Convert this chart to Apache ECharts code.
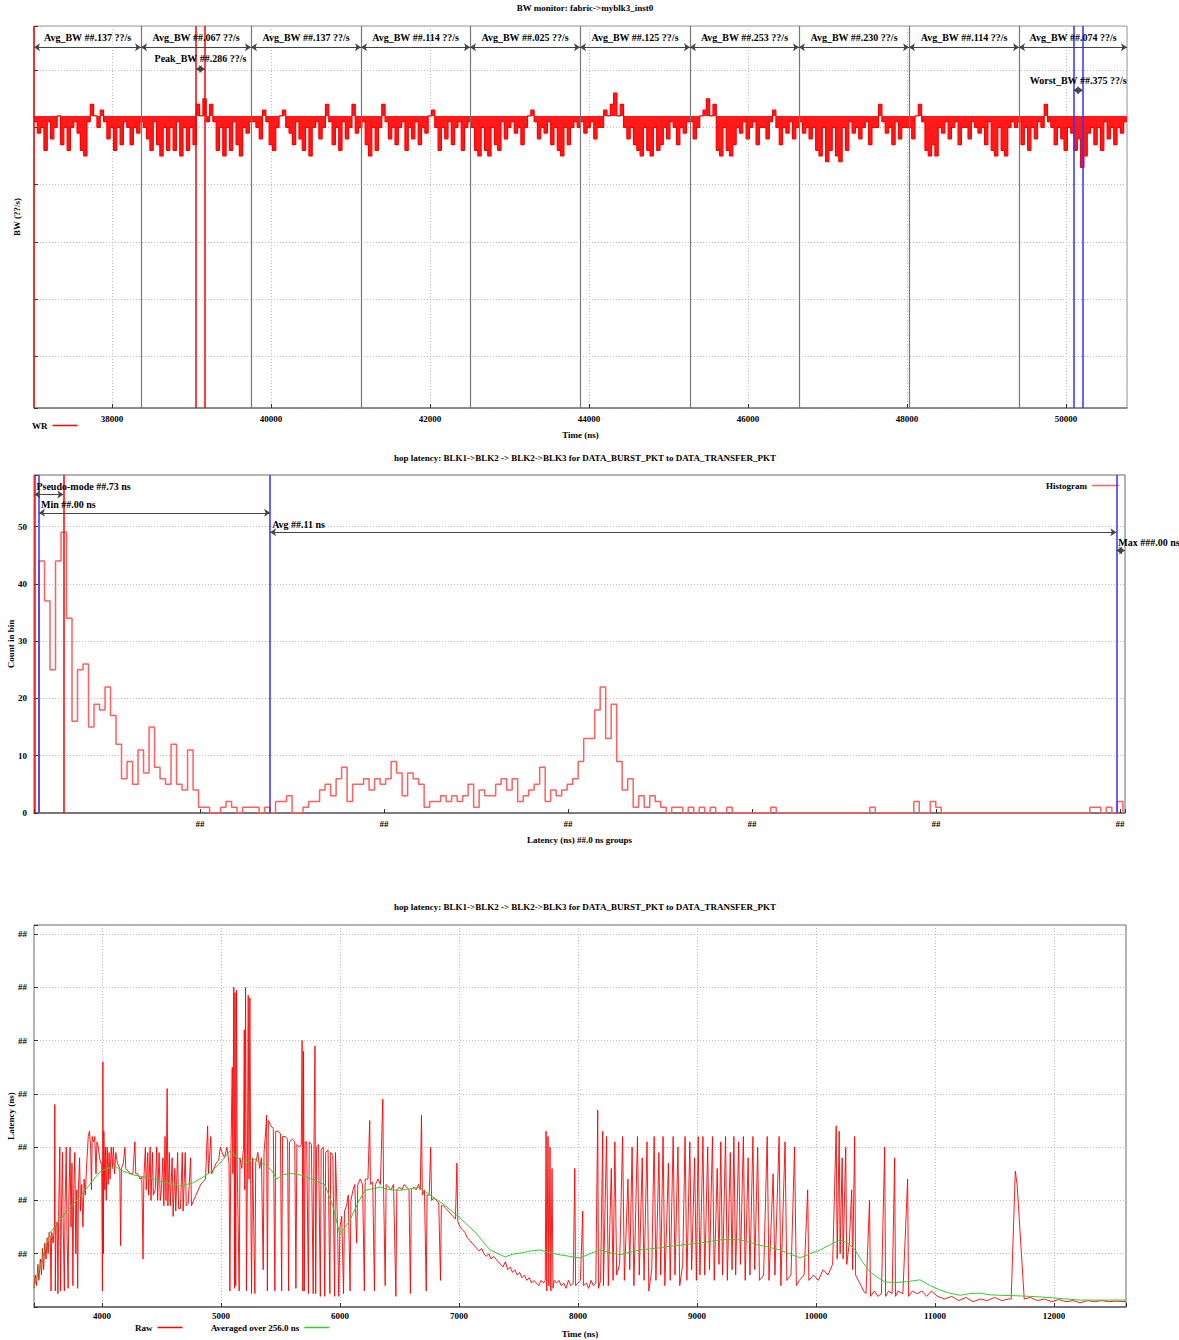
<!DOCTYPE html>
<html>
<head>
<meta charset="utf-8">
<script src="https://cdn.jsdelivr.net/npm/echarts@6/dist/echarts.min.js"></script>
<style>
html, body { margin: 0; padding: 0; background: #fff; }
#main { width: 1179px; height: 1340px; }
</style>
</head>
<body>
<div id="main"></div>
<script>
// ---------- panel 1 : BW monitor ----------
var bwStart = 37020, bwEnd = 50767;
var bwTop = 42;
var bwSamples = [
  41,39,40,36,41,38,40,42,37,40,36,40,41,39,36,35,41,44,42,40,43,41,38,40,36,40,37,41,40,37,40,39,41,
  40,38,36,41,37,35,40,36,40,36,41,35,40,36,40,37,44,42,45,41,44,41,36,40,35,40,36,41,37,35,40,39,41,
  41,40,38,43,41,37,36,40,42,43,40,39,37,41,38,36,40,35,40,41,38,40,44,41,37,40,36,41,38,40,44,39,40,
  41,37,35,40,36,40,44,41,38,40,37,40,41,36,40,38,41,37,40,39,42,43,40,36,40,38,41,37,40,41,36,40,41,
  40,36,35,40,36,35,40,37,36,41,38,40,41,39,40,37,40,42,43,41,38,40,39,41,37,40,36,35,40,37,40,41,40,
  41,39,40,41,38,40,40,43,42,44,46,42,44,40,38,40,37,36,35,40,36,35,40,36,37,40,38,41,40,37,40,39,41,
  41,38,40,42,43,45,42,44,36,35,40,36,35,37,40,39,41,38,40,41,37,40,40,38,41,43,40,37,40,39,41,38,40,
  41,39,40,38,40,36,35,40,34,36,40,35,34,40,36,41,39,40,38,40,41,37,40,40,44,41,39,40,37,41,38,40,40,
  40,38,42,44,41,36,35,37,35,40,39,41,38,40,41,37,40,40,38,41,40,39,40,37,41,36,35,40,36,35,40,41,40,
  41,37,40,36,40,38,41,40,44,41,40,37,40,38,36,40,39,36,38,33,35,39,40,37,40,36,41,38,40,37,40,39,41
];
var bwSegEdges = [37020, 38366, 39749, 41133, 42504, 43887, 45270, 46641, 48025, 49409, 50767];
var bwAvgText = ['##.137', '##.067', '##.137', '##.114', '##.025', '##.125', '##.253', '##.230', '##.114', '##.074'];
var bwPeak = [39057, 39170];
var bwWorst = [50092, 50214];

// ---------- panel 2 : latency histogram ----------
var histStart = 12.5, histWidth = 2.99;
var histCounts = [
  44,37,25,44,49,34,16,25,26,15, 19,18,22,17,12,6,9,5,11,7,
  15,8,6,5,12,5,4,11,4,1, 1,0,0,1,2,1,0,1,1,1,
  0,1,0,2,2,3,0,0,1,2, 2,4,5,3,6,8,2,5,5,6,
  4,6,5,6,9,7,3,7,6,5, 1,2,2,3,2,3,2,3,5,1,
  4,3,3,5,6,4,6,2,3,4, 5,8,2,4,3,4,5,6,9,13,
  13,18,22,13,19,9,4,6,1,3, 1,3,2,1,0,1,1,0,1,0,
  1,0,1,0,0,1,0,0,0,0, 0,0,0,1,0,0,0,0,0,0,
  0,0,0,0,0,0,0,0,0,0, 0,1,0,0,0,0,0,0,0,2,
  0,0,2,1,0,0,0,0,0,0, 0,0,0,0,0,0,0,0,0,0,
  0,0,0,0,0,0,0,0,0,0, 0,1,1,0,1,0,2
];
var latEdge = 10, latMin = 12.5, latMode = 25.73, latAvg = 138.11, latMax = 598.0;

// ---------- panel 3 : latency over time ----------
var rawPoints = [
  [3429,0.35],[3440,0.6],[3450,0.4],[3462,0.8],[3470,0.5],[3482,0.9],[3492,0.6],[3500,1.1],[3510,0.7],[3520,1.2],
  [3530,0.9],[3540,1.3],[3548,1.0],[3556,1.4],[3566,1.3],[3572,0.3],[3578,1.4],[3590,1.2],[3600,1.5],[3604,3.8],
  [3608,0.3],[3614,1.5],[3624,1.6],[3630,0.25],[3636,1.7],[3646,3.0],[3652,0.3],[3660,1.8],[3668,2.9],[3674,1.6],
  [3684,0.3],[3690,1.9],[3700,3.0],[3706,1.4],[3716,0.35],[3722,2.0],[3732,3.0],[3740,1.5],[3748,2.7],[3756,0.4],
  [3762,2.1],[3772,2.9],[3780,1.0],[3788,2.2],[3796,0.35],[3802,2.2],[3812,2.8],[3820,1.8],[3830,2.3],[3840,1.5],
  [3850,2.4],[3860,2.1],[3870,2.6],[3885,3.2],[3895,3.3],[3905,3.0],[3912,2.2],[3918,3.2],[3930,3.1],[3940,3.2],
  [3950,2.5],[3958,3.1],[3970,3.0],[3980,2.8],[3990,2.7],[3998,2.7],[4004,0.3],[4008,4.6],[4012,1.0],[4016,3.3],
  [4024,2.2],[4030,3.0],[4036,2.0],[4044,3.0],[4052,2.3],[4060,2.9],[4068,2.4],[4078,3.0],[4088,2.6],[4096,3.0],
  [4106,2.5],[4116,2.9],[4130,2.7],[4150,2.6],[4157,1.15],[4164,2.6],[4180,2.7],[4193,3.0],[4200,2.6],[4220,2.55],
  [4240,2.5],[4260,2.5],[4277,3.1],[4284,2.5],[4300,2.5],[4320,2.4],[4335,2.45],[4345,0.9],[4352,2.4],[4365,3.0],
  [4372,2.2],[4385,2.9],[4392,2.1],[4405,3.0],[4412,2.0],[4425,2.9],[4432,2.1],[4448,2.2],[4460,3.0],[4468,2.0],
  [4480,2.9],[4490,2.0],[4500,2.2],[4512,2.8],[4520,1.9],[4530,3.2],[4538,2.0],[4548,4.1],[4554,1.9],[4566,2.9],
  [4574,1.9],[4590,2.8],[4598,1.7],[4612,2.6],[4620,1.8],[4636,2.9],[4644,1.85],[4660,1.85],[4675,2.9],[4682,1.8],
  [4700,2.9],[4708,1.9],[4725,1.95],[4745,2.8],[4752,1.9],[4770,2.0],[4790,2.1],[4810,2.2],[4830,2.3],[4850,2.35],
  [4870,2.4],[4888,3.4],[4895,2.5],[4915,3.2],[4922,2.5],[4940,2.6],[4960,2.7],[4980,2.75],[4995,3.0],[5010,2.9],
  [5030,2.8],[5050,3.0],[5068,2.7],[5075,0.3],[5082,2.6],[5095,4.5],[5100,2.5],[5108,6.0],[5114,0.35],[5118,5.9],
  [5124,0.4],[5131,5.95],[5137,2.6],[5153,0.3],[5160,2.8],[5175,2.6],[5190,3.0],[5196,5.2],[5200,2.2],[5207,6.0],
  [5214,0.3],[5222,2.5],[5229,5.85],[5236,2.4],[5243,5.8],[5250,2.3],[5257,0.25],[5266,2.8],[5285,0.25],[5292,2.7],
  [5310,2.9],[5325,2.6],[5340,2.8],[5355,0.7],[5362,2.9],[5376,3.3],[5383,3.6],[5390,0.3],[5398,3.5],[5420,3.4],
  [5440,3.35],[5453,0.3],[5460,3.3],[5480,3.3],[5500,3.25],[5510,0.3],[5518,3.2],[5540,3.2],[5560,3.15],[5568,0.3],
  [5576,3.1],[5600,3.15],[5620,3.1],[5630,0.35],[5638,3.05],[5660,3.0],[5675,3.05],[5682,5.0],[5688,0.3],[5694,4.8],
  [5700,0.3],[5708,3.1],[5720,3.1],[5735,0.25],[5742,3.1],[5760,3.05],[5775,0.25],[5782,3.1],[5790,4.9],[5796,0.25],
  [5804,3.0],[5820,3.05],[5835,0.2],[5842,2.95],[5860,3.0],[5872,0.2],[5880,2.9],[5900,2.95],[5915,0.25],[5922,2.9],
  [5940,2.85],[5955,0.2],[5962,2.9],[5980,1.5],[5990,0.2],[6000,1.5],[6015,1.7],[6030,0.25],[6038,1.8],[6055,1.9],
  [6070,2.1],[6085,0.3],[6092,2.0],[6110,2.2],[6125,2.3],[6140,1.2],[6150,2.3],[6170,2.4],[6190,2.3],[6205,0.3],
  [6212,2.4],[6235,2.4],[6250,3.5],[6256,2.3],[6275,2.35],[6290,0.3],[6298,2.3],[6320,2.4],[6340,2.3],[6360,3.9],
  [6366,2.3],[6380,0.4],[6388,2.3],[6410,2.25],[6430,2.2],[6450,2.3],[6470,0.2],[6478,2.2],[6500,2.25],[6520,2.2],
  [6540,2.3],[6560,2.25],[6580,2.2],[6592,0.25],[6600,2.2],[6620,2.25],[6640,2.2],[6660,2.3],[6675,2.2],[6685,3.6],
  [6692,2.1],[6710,2.2],[6725,0.3],[6732,2.1],[6750,2.1],[6762,3.0],[6770,2.0],[6790,2.05],[6810,2.0],[6830,1.95],
  [6845,0.5],[6852,1.9],[6870,1.9],[6890,1.85],[6910,1.8],[6930,1.75],[6950,1.7],[6970,1.65],[6983,2.7],[6990,1.6],
  [7010,1.5],[7030,1.45],[7050,1.4],[7070,1.3],[7090,1.25],[7110,1.2],[7130,1.15],[7150,1.1],[7170,1.05],[7190,1.1],
  [7210,1.0],[7230,0.95],[7250,1.0],[7270,0.9],[7290,0.95],[7310,0.9],[7330,0.85],[7350,0.8],[7370,0.75],[7390,0.85],
  [7410,0.7],[7430,0.75],[7450,0.65],[7470,0.7],[7490,0.6],[7510,0.65],[7530,0.55],[7550,0.6],[7570,0.5],[7590,0.55],
  [7610,0.45],[7630,0.5],[7650,0.45],[7670,0.4],[7690,0.5],[7710,0.45],[7725,0.5],[7732,3.3],[7738,0.3],[7748,3.2],
  [7755,0.4],[7765,3.0],[7772,0.3],[7782,2.6],[7790,0.35],[7800,0.5],[7820,0.45],[7840,0.5],[7860,0.4],[7880,0.45],
  [7900,0.35],[7920,0.5],[7940,0.4],[7960,0.45],[7973,2.6],[7980,0.4],[8000,0.45],[8020,0.5],[8040,1.8],[8046,0.4],
  [8070,0.45],[8090,0.35],[8110,0.5],[8130,0.4],[8150,0.45],[8166,3.7],[8172,0.35],[8190,0.5],[8208,3.3],[8214,0.4],
  [8240,3.2],[8255,0.4],[8280,2.6],[8295,0.5],[8310,3.1],[8325,0.6],[8350,0.8],[8375,3.2],[8390,0.5],[8420,2.4],
  [8435,0.7],[8455,3.0],[8470,0.4],[8500,3.2],[8515,0.6],[8540,2.8],[8555,0.5],[8580,3.1],[8595,0.3],[8620,0.7],
  [8640,3.2],[8655,0.5],[8680,2.9],[8695,0.6],[8715,3.2],[8730,0.4],[8760,2.7],[8775,0.5],[8800,3.2],[8815,0.6],
  [8840,3.0],[8855,0.4],[8880,0.8],[8900,3.2],[8915,0.5],[8940,3.1],[8955,0.7],[8980,2.8],[8995,0.5],[9010,3.2],
  [9025,0.6],[9050,3.2],[9065,0.6],[9090,3.0],[9105,0.7],[9130,3.2],[9145,0.5],[9170,2.6],[9185,0.8],[9200,3.1],
  [9215,0.6],[9240,3.2],[9255,0.5],[9280,2.9],[9295,0.7],[9310,3.2],[9325,0.6],[9350,3.1],[9365,0.8],[9390,3.2],
  [9405,0.5],[9430,2.8],[9445,0.6],[9470,3.2],[9485,0.7],[9510,3.0],[9525,0.5],[9560,0.6],[9590,3.2],[9605,0.5],
  [9640,2.5],[9655,0.6],[9690,3.2],[9705,0.4],[9740,3.1],[9755,0.5],[9790,0.6],[9820,3.0],[9835,0.4],[9860,0.5],
  [9900,0.6],[9930,2.2],[9940,0.5],[9980,0.6],[10020,0.5],[10060,0.7],[10100,0.6],[10140,0.8],[10170,3.4],[10178,0.9],
  [10195,3.3],[10203,1.0],[10220,2.8],[10228,0.9],[10250,3.0],[10258,0.8],[10280,1.2],[10300,2.2],[10308,0.7],[10325,3.2],
  [10333,0.6],[10355,0.5],[10380,0.4],[10400,0.3],[10420,0.25],[10450,2.0],[10458,0.2],[10490,0.3],[10520,0.2],[10550,0.25],
  [10577,3.0],[10585,0.2],[10610,0.3],[10640,0.25],[10661,2.8],[10668,0.2],[10690,0.3],[10730,0.25],[10770,2.4],[10778,0.2],
  [10810,0.3],[10850,0.25],[10890,0.3],[10930,0.2],[10970,0.3],[11020,0.2],[11080,0.15],[11140,0.2],[11200,0.12],[11260,0.18],
  [11320,0.1],[11380,0.15],[11440,0.12],[11500,0.18],[11560,0.12],[11620,0.15],[11640,0.15],[11675,2.55],[11690,2.3],[11750,0.15],
  [11800,0.18],[11860,0.12],[11920,0.15],[11980,0.1],[12040,0.14],[12100,0.1],[12160,0.12],[12220,0.08],[12280,0.12],[12340,0.1],
  [12400,0.12],[12460,0.1],[12520,0.11],[12605,0.1]
];
var avgPoints = [
  [3429,0.38],[3563,1.39],[3703,1.79],[3840,2.14],[3983,2.54],[4040,2.6],[4109,2.64],[4180,2.55],[4261,2.48],[4330,2.45],
  [4403,2.42],[4470,2.38],[4544,2.33],[4600,2.3],[4655,2.27],[4710,2.3],[4765,2.33],[4820,2.4],[4880,2.48],[4940,2.58],
  [4992,2.7],[5076,2.93],[5140,2.8],[5216,2.7],[5269,2.79],[5330,2.72],[5384,2.66],[5430,2.55],[5468,2.4],[5520,2.48],
  [5580,2.51],[5664,2.48],[5748,2.42],[5874,2.29],[5940,1.9],[6000,1.35],[6084,1.63],[6150,1.95],[6210,2.19],[6336,2.25],
  [6420,2.2],[6504,2.19],[6590,2.22],[6672,2.25],[6756,2.1],[6882,1.91],[7008,1.67],[7134,1.41],[7261,1.07],[7387,0.94],
  [7450,0.99],[7513,1.01],[7600,1.05],[7681,1.07],[7760,1.02],[7849,0.98],[7930,0.95],[8017,0.92],[8100,1.0],[8185,1.07],
  [8270,1.02],[8353,0.98],[8440,1.03],[8521,1.07],[8600,1.09],[8689,1.11],[8770,1.14],[8857,1.16],[8940,1.18],[9025,1.2],
  [9110,1.23],[9193,1.26],[9280,1.27],[9361,1.26],[9450,1.21],[9529,1.16],[9610,1.12],[9697,1.07],[9780,1.0],[9866,0.92],
  [9950,1.0],[10034,1.07],[10120,1.17],[10202,1.26],[10270,1.2],[10328,1.07],[10390,0.85],[10454,0.66],[10520,0.55],[10580,0.47],
  [10660,0.46],[10748,0.47],[10810,0.49],[10874,0.51],[10960,0.4],[11042,0.32],[11120,0.26],[11210,0.22],[11290,0.25],[11378,0.26],
  [11460,0.23],[11546,0.22],[11700,0.21],[11882,0.19],[12050,0.16],[12218,0.13],[12400,0.13],[12605,0.13]
];

// ---------- build ----------
var FONT = 'Liberation Serif';
var txt = { fontFamily: FONT, fontWeight: 'bold', fontSize: 10, color: '#000' };
var tick = { fontFamily: FONT, fontWeight: 'bold', fontSize: 9, color: '#000' };
var dotted = { lineStyle: { color: '#bbb', type: [1, 2], width: 1 } };
var RED = '#ff0000', BLUE = '#3333ff';

var bwStep = (bwEnd - bwStart) / bwSamples.length;
var bwData = bwSamples.map(function (v, i) { return [bwStart + i * bwStep, v]; });
bwData.push([bwEnd, bwSamples[bwSamples.length - 1]]);

function vline(x, color, w) {
  return { xAxis: x, symbol: 'none', lineStyle: { color: color, width: w, type: 'solid' }, label: { show: false } };
}
function arrow(x1, x2, y, text, pos, dist) {
  var lbl = { show: true, formatter: text, position: pos, distance: dist };
  for (var k in txt) lbl[k] = txt[k];
  return [
    { coord: [x1, y], symbol: 'arrow', lineStyle: { color: '#444', width: 1, type: 'solid' }, label: lbl },
    { coord: [x2, y], symbol: 'arrow' }
  ];
}

var bwMarks = [];
bwSegEdges.slice(1, -1).forEach(function (t) { bwMarks.push(vline(t, '#777', 1.2)); });
bwMarks.push(vline(bwStart, RED, 1.5));
bwPeak.forEach(function (t) { bwMarks.push(vline(t, RED, 1.5)); });
bwWorst.forEach(function (t) { bwMarks.push(vline(t, BLUE, 1.5)); });
for (var i = 0; i < bwAvgText.length; i++) {
  bwMarks.push(arrow(bwSegEdges[i], bwSegEdges[i + 1], 54, 'Avg_BW ' + bwAvgText[i] + ' ??/s', 'middle', 5));
}
bwMarks.push(arrow(bwPeak[0], bwPeak[1], 50.2, 'Peak_BW ##.286 ??/s', 'middle', 5));
bwMarks.push(arrow(bwWorst[0], bwWorst[1], 46.5, 'Worst_BW ##.375 ??/s', 'middle', 5));

var histData = [[histStart, 0]];
histCounts.forEach(function (c, k) { histData.push([histStart + k * histWidth, c]); });
var histEnd = histStart + histCounts.length * histWidth;
histData.push([histEnd, histCounts[histCounts.length - 1]]);
histData.push([histEnd, 0]);

var latMarks = [
  vline(latEdge, RED, 1.5), vline(latMin, BLUE, 1.5), vline(latMode, RED, 1.5),
  vline(latAvg, BLUE, 1.5), vline(latMax, BLUE, 1.5),
  arrow(latEdge, latMode, 55.6, 'Pseudo-mode ##.73 ns', 'insideStartTop', [2, 3]),
  arrow(latMin, latAvg, 52.4, 'Min ##.00 ns', 'insideStartTop', [2, 3]),
  arrow(latAvg, latMax, 49.0, 'Avg ##.11 ns', 'insideStartTop', [2, 3]),
  arrow(latMax, 602.7, 45.8, 'Max ###.00 ns', 'insideStartTop', [2, 3])
];

function nameStyle() { return { fontFamily: FONT, fontWeight: 'bold', fontSize: 9, color: '#000' }; }

var option = {
  animation: false,
  backgroundColor: '#fff',
  title: [
    { text: 'BW monitor: fabric->myblk3_inst0', left: 580, top: -2, textAlign: 'center', textStyle: nameStyle() },
    { text: 'hop latency: BLK1->BLK2 -> BLK2->BLK3 for DATA_BURST_PKT to DATA_TRANSFER_PKT', left: 580, top: 448, textAlign: 'center', textStyle: nameStyle() },
    { text: 'hop latency: BLK1->BLK2 -> BLK2->BLK3 for DATA_BURST_PKT to DATA_TRANSFER_PKT', left: 580, top: 897, textAlign: 'center', textStyle: nameStyle() }
  ],
  legend: [
    { data: ['WR'], left: 27, top: 416, align: 'right', icon: 'rect', itemWidth: 25, itemHeight: 1.5, textStyle: nameStyle(), selectedMode: false },
    { data: ['Histogram'], left: 1041, top: 476, align: 'right', icon: 'rect', itemWidth: 27, itemHeight: 1.5, textStyle: nameStyle(), selectedMode: false },
    { data: ['Raw', 'Averaged over 256.0 ns'], left: 130, top: 1318, align: 'right', icon: 'rect', itemWidth: 25, itemHeight: 1.5, itemGap: 28, textStyle: nameStyle(), selectedMode: false }
  ],
  grid: [
    { left: 34, right: 52, top: 26, height: 382, show: true, borderColor: '#999', borderWidth: 1, outerBoundsMode: 'none', containLabel: false },
    { left: 34, right: 54, top: 475, height: 338, show: true, borderColor: '#666', borderWidth: 1, outerBoundsMode: 'none', containLabel: false },
    { left: 34, right: 53, top: 925, height: 382, show: true, borderColor: '#666', borderWidth: 1, outerBoundsMode: 'none', containLabel: false }
  ],
  xAxis: [
    {
      gridIndex: 0, type: 'value', min: bwStart, max: bwEnd, splitNumber: 7,
      name: 'Time (ns)', nameLocation: 'middle', nameGap: 22, nameTextStyle: nameStyle(),
      axisLine: { onZero: false, lineStyle: { color: '#777', width: 1.5 } },
      axisTick: { inside: true, length: 4, lineStyle: { color: '#333' } },
      axisLabel: Object.assign({ margin: 6, showMinLabel: false, showMaxLabel: false, formatter: function (v) { return v % 2000 === 0 ? String(v) : ''; } }, tick),
      splitLine: Object.assign({ show: true }, dotted)
    },
    {
      gridIndex: 1, type: 'value', min: 9.78, max: 602.7, splitNumber: 6,
      name: 'Latency (ns) ##.0 ns groups', nameLocation: 'middle', nameGap: 22, nameTextStyle: nameStyle(),
      axisLine: { onZero: false, lineStyle: { color: '#666', width: 1.5 } },
      axisTick: { inside: true, length: 4, lineStyle: { color: '#333' } },
      axisLabel: Object.assign({ margin: 6, formatter: function (v) { return v % 100 === 0 ? '##' : ''; } }, tick),
      splitLine: { show: false }
    },
    {
      gridIndex: 2, type: 'value', min: 3429, max: 12605, splitNumber: 9,
      name: 'Time (ns)', nameLocation: 'middle', nameGap: 22, nameTextStyle: nameStyle(),
      axisLine: { onZero: false, lineStyle: { color: '#666', width: 1.5 } },
      axisTick: { inside: true, length: 4, lineStyle: { color: '#333' } },
      axisLabel: Object.assign({ margin: 4, formatter: function (v) { return v % 1000 === 0 ? String(v) : ''; } }, tick),
      splitLine: Object.assign({ show: true }, dotted)
    }
  ],
  yAxis: [
    {
      gridIndex: 0, type: 'value', min: -9, max: 57.7,
      name: 'BW (??/s)', nameLocation: 'middle', nameRotate: 90, nameGap: 13, nameTextStyle: nameStyle(),
      axisLine: { show: false, onZero: false },
      axisTick: { show: true, inside: true, length: 4, lineStyle: { color: '#333' } },
      axisLabel: { show: false },
      splitLine: Object.assign({ show: true }, dotted)
    },
    {
      gridIndex: 1, type: 'value', min: 0, max: 59, interval: 10,
      name: 'Count in bin', nameLocation: 'middle', nameRotate: 90, nameGap: 19, nameMoveOverlap: false, nameTextStyle: nameStyle(),
      axisLine: { show: false, onZero: false },
      axisTick: { show: true, inside: true, length: 4, lineStyle: { color: '#333' } },
      axisLabel: Object.assign({ margin: 7, formatter: function (v) { return v % 10 === 0 ? String(v) : ''; } }, tick),
      splitLine: Object.assign({ show: true }, dotted)
    },
    {
      gridIndex: 2, type: 'value', min: 0, max: 7.17, interval: 1,
      name: 'Latency (ns)', nameLocation: 'middle', nameRotate: 90, nameGap: 19, nameMoveOverlap: false, nameTextStyle: nameStyle(),
      axisLine: { show: false, onZero: false },
      axisTick: { show: true, inside: true, length: 4, lineStyle: { color: '#333' } },
      axisLabel: Object.assign({ margin: 7, formatter: function (v) { return (v > 0 && v % 1 === 0) ? '##' : ''; } }, tick),
      splitLine: Object.assign({ show: true }, dotted)
    }
  ],
  series: [
    {
      name: 'WR', type: 'line', xAxisIndex: 0, yAxisIndex: 0, step: 'end', data: bwData,
      showSymbol: false, color: RED, lineStyle: { color: RED, width: 1.2 }, silent: true,
      areaStyle: { color: RED, opacity: 0.9, origin: bwTop },
      markLine: { silent: true, symbol: ['none', 'none'], symbolSize: 6, label: { show: false }, data: bwMarks }
    },
    {
      name: 'Histogram', type: 'line', xAxisIndex: 1, yAxisIndex: 1, step: 'end', data: histData,
      showSymbol: false, color: '#ff6060', lineStyle: { color: '#ff6060', width: 1.5 }, silent: true,
      markLine: { silent: true, symbol: ['none', 'none'], symbolSize: 6, label: { show: false }, data: latMarks }
    },
    {
      name: 'Raw', type: 'line', xAxisIndex: 2, yAxisIndex: 2, data: rawPoints,
      showSymbol: false, color: RED, lineStyle: { color: RED, width: 0.9 }, silent: true
    },
    {
      name: 'Averaged over 256.0 ns', type: 'line', xAxisIndex: 2, yAxisIndex: 2, data: avgPoints,
      showSymbol: false, color: '#33cc33', lineStyle: { color: '#33cc33', width: 1 }, silent: true
    }
  ]
};

var chart = echarts.init(document.getElementById('main'), null, { renderer: 'svg' });
chart.setOption(option);
</script>
</body>
</html>
